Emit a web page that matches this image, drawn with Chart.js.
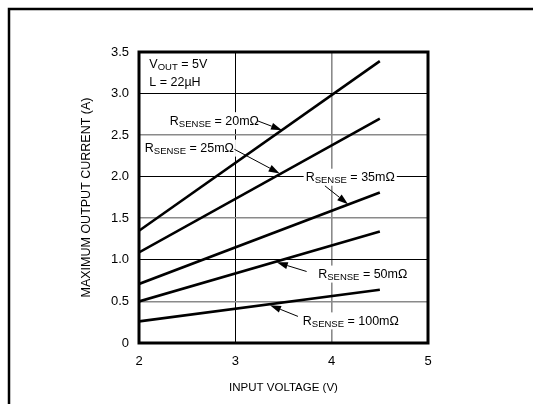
<!DOCTYPE html>
<html>
<head>
<meta charset="utf-8">
<script src="https://cdn.jsdelivr.net/npm/chart.js@4"></script>
<style>
  html, body { margin: 0; padding: 0; background: #fff; }
  #wrap { position: relative; width: 533px; height: 404px; }
</style>
</head>
<body>
<div id="wrap"><canvas id="chart"></canvas></div>
<script>
// values (input voltage in V, output current in A)
const inputVoltage = [2, 4.5];
const rSense20 = [1.35, 3.39];
const rSense25 = [1.09, 2.70];
const rSense35 = [0.71, 1.81];
const rSense50 = [0.50, 1.34];
const rSense100 = [0.26, 0.64];
const senseNames = ['20mΩ', '25mΩ', '35mΩ', '50mΩ', '100mΩ'];
const xTickValues = [2, 3, 4, 5];
const yTickValues = [0, 0.5, 1.0, 1.5, 2.0, 2.5, 3.0, 3.5];

const FONT = "'Liberation Sans', Arial, sans-serif";
Chart.defaults.font.family = FONT;
Chart.defaults.color = '#000';

// where each curve label sits and where its arrow points (data units)
const labelSpots = [
  { at: [2.32, 2.68], from: [3.235, 2.67], to: [3.485, 2.56] },
  { at: [2.06, 2.35], from: [2.99, 2.33], to: [3.46, 2.04] },
  { at: [3.73, 2.00], from: [3.93, 1.89], to: [4.17, 1.67] },
  { at: [3.86, 0.835], from: [3.74, 0.86], to: [3.43, 0.97] },
  { at: [3.70, 0.272], from: [3.65, 0.32], to: [3.36, 0.455] }
];

function toPoints(ys) {
  return inputVoltage.map((v, i) => ({ x: v, y: ys[i] }));
}

function lineSet(ys) {
  return {
    data: toPoints(ys),
    borderColor: '#000',
    borderWidth: 2.6,
    pointRadius: 0,
    tension: 0,
    fill: false
  };
}

function drawSense(ctx, x, y, name) {
  // x = left edge, y = vertical middle
  const big = '12.5px ' + FONT;
  const small = '9.5px ' + FONT;
  ctx.font = big;
  const wR = ctx.measureText('R').width;
  const rest = ' = ' + name;
  const wRest = ctx.measureText(rest).width;
  ctx.font = small;
  const wSub = ctx.measureText('SENSE').width;
  const total = wR + wSub + wRest;
  ctx.fillStyle = '#fff';
  ctx.fillRect(x - 2, y - 8, total + 4, 17);
  ctx.fillStyle = '#000';
  ctx.textBaseline = 'alphabetic';
  ctx.textAlign = 'left';
  const base = y + 4.5;
  ctx.font = big;
  ctx.fillText('R', x, base);
  ctx.font = small;
  ctx.fillText('SENSE', x + wR, base + 2);
  ctx.font = big;
  ctx.fillText(rest, x + wR + wSub, base);
}

function drawArrow(ctx, x1, y1, x2, y2) {
  const ang = Math.atan2(y2 - y1, x2 - x1);
  const len = 11, half = 3.6;
  const bx = x2 - len * Math.cos(ang), by = y2 - len * Math.sin(ang);
  ctx.strokeStyle = '#000';
  ctx.lineWidth = 1;
  ctx.beginPath();
  ctx.moveTo(x1, y1);
  ctx.lineTo(bx, by);
  ctx.stroke();
  ctx.fillStyle = '#000';
  ctx.beginPath();
  ctx.moveTo(x2, y2);
  ctx.lineTo(bx + half * Math.sin(ang), by - half * Math.cos(ang));
  ctx.lineTo(bx - half * Math.sin(ang), by + half * Math.cos(ang));
  ctx.closePath();
  ctx.fill();
}

const notesPlugin = {
  id: 'notes',
  beforeDraw(chart) {
    const ctx = chart.ctx;
    ctx.save();
    ctx.fillStyle = '#fff';
    ctx.fillRect(0, 0, chart.width, chart.height);
    // outer frame (top and left edges only visible)
    ctx.strokeStyle = '#000';
    ctx.lineWidth = 2.5;
    ctx.beginPath();
    ctx.moveTo(9, chart.height);
    ctx.lineTo(9, 9);
    ctx.lineTo(chart.width, 9);
    ctx.stroke();
    ctx.restore();
  },
  beforeDatasetsDraw(chart) {
    const ctx = chart.ctx;
    const xs = chart.scales.x, ys = chart.scales.y;
    ctx.save();
    labelSpots.forEach((s, i) => {
      drawSense(ctx, xs.getPixelForValue(s.at[0]), ys.getPixelForValue(s.at[1]), senseNames[i]);
      drawArrow(ctx,
        xs.getPixelForValue(s.from[0]), ys.getPixelForValue(s.from[1]),
        xs.getPixelForValue(s.to[0]), ys.getPixelForValue(s.to[1]));
    });
    // condition text, top left
    const x0 = xs.getPixelForValue(2.107);
    const big = '12.5px ' + FONT, small = '9.5px ' + FONT;
    ctx.fillStyle = '#000';
    ctx.textBaseline = 'alphabetic';
    let yb = ys.getPixelForValue(3.36) + 4.5;
    ctx.font = big;
    ctx.fillText('V', x0, yb);
    let w = ctx.measureText('V').width;
    ctx.font = small;
    ctx.fillText('OUT', x0 + w, yb + 2);
    w += ctx.measureText('OUT').width;
    ctx.font = big;
    ctx.fillText(' = 5V', x0 + w, yb);
    yb = ys.getPixelForValue(3.14) + 4.5;
    ctx.fillText('L = 22µH', x0, yb);
    ctx.restore();
  },
  afterDraw(chart) {
    const a = chart.chartArea, ctx = chart.ctx;
    ctx.save();
    ctx.strokeStyle = '#000';
    ctx.lineWidth = 3;
    ctx.strokeRect(a.left, a.top, a.right - a.left, a.bottom - a.top);
    ctx.restore();
  }
};

new Chart(document.getElementById('chart'), {
  type: 'line',
  data: {
    datasets: [rSense20, rSense25, rSense35, rSense50, rSense100].map(lineSet)
  },
  options: {
    responsive: true,
    maintainAspectRatio: false,
    animation: false,
    layout: { padding: { left: 75, top: 52, right: 105, bottom: 0 } },
    plugins: { legend: { display: false }, tooltip: { enabled: false } },
    scales: {
      x: {
        type: 'linear',
        min: 2,
        max: 5,
        afterFit(s) { s.height = 61; },
        afterBuildTicks(s) { s.ticks = xTickValues.map(v => ({ value: v })); },
        ticks: { font: { size: 13 }, padding: 11, callback: v => String(v) },
        grid: {
          drawTicks: false,
          color: c => (c.tick && c.tick.value === 4 ? '#8a8a8a' : '#000'),
          lineWidth: c => (c.tick && c.tick.value === 4 ? 1.6 : 1)
        },
        border: { display: false },
        title: {
          display: true,
          text: 'INPUT VOLTAGE (V)',
          font: { size: 11.5 },
          padding: { top: 0, bottom: 9 }
        }
      },
      y: {
        type: 'linear',
        min: 0,
        max: 3.5,
        afterFit(s) { s.width = 64; },
        afterBuildTicks(s) { s.ticks = yTickValues.map(v => ({ value: v })); },
        ticks: { font: { size: 13 }, padding: 10, callback: v => (v === 0 ? '0' : v.toFixed(1)) },
        grid: {
          drawTicks: false,
          color: c => (c.tick && c.tick.value % 1 !== 0 ? '#8a8a8a' : '#000'),
          lineWidth: c => (c.tick && c.tick.value % 1 !== 0 ? 1.6 : 1)
        },
        border: { display: false },
        title: {
          display: true,
          text: 'MAXIMUM OUTPUT CURRENT (A)',
          font: { size: 12.5 },
          padding: { top: 4, bottom: 0 }
        }
      }
    }
  },
  plugins: [notesPlugin]
});
</script>
</body>
</html>
